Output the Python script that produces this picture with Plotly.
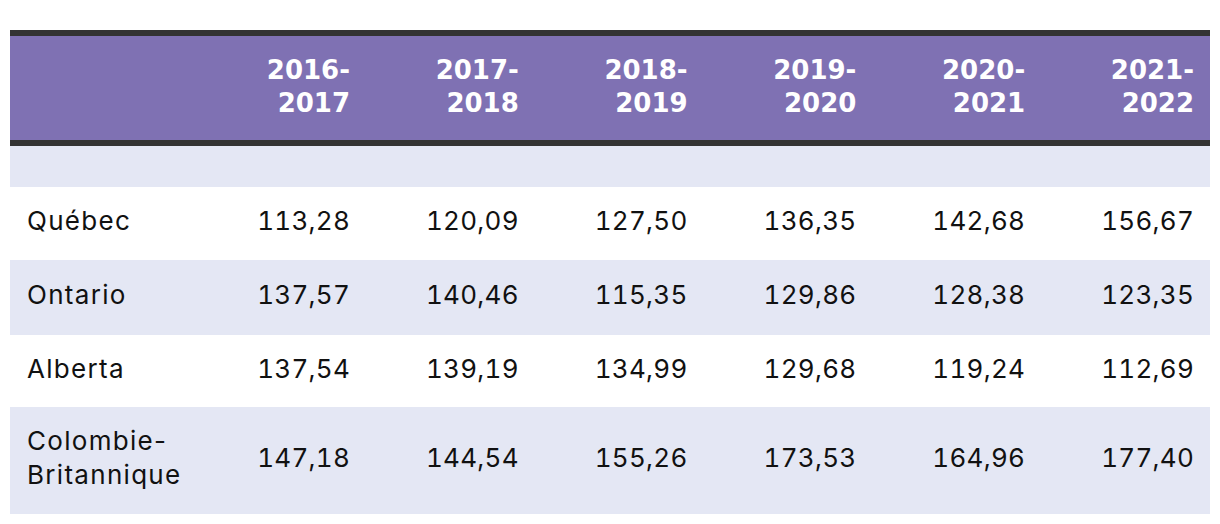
import plotly.graph_objects as go

# ---- data ----
periods = ["2016-<br>2017", "2017-<br>2018", "2018-<br>2019", "2019-<br>2020", "2020-<br>2021", "2021-<br>2022"]
provinces = ["Québec", "Ontario", "Alberta", "Colombie-<br>Britannique"]
quebec = [113.28, 120.09, 127.50, 136.35, 142.68, 156.67]
ontario = [137.57, 140.46, 115.35, 129.86, 128.38, 123.35]
alberta = [137.54, 139.19, 134.99, 129.68, 119.24, 112.69]
colombie_britannique = [147.18, 144.54, 155.26, 173.53, 164.96, 177.40]
series = [quebec, ontario, alberta, colombie_britannique]

# ---- layout constants (pixels in a 1220x524 canvas) ----
W, H = 1220, 524
left, right = 10, 1210
border_top = (30, 36)
header = (36, 140)
border_bot = (140, 146)
empty_row = (146, 187)
row_bounds = [(187, 260), (260, 335), (335, 407), (407, 514)]
row_fill = ["#FFFFFF", "#E4E7F4", "#FFFFFF", "#E4E7F4"]
col_right = [350 + i * 168.8 for i in range(len(periods))]
label_x = 27

PURPLE = "#7F71B3"
DARK = "#333333"
LAV = "#E4E7F4"
FONT = "Inter, Roboto, sans-serif"
HFONT = "DejaVu Sans, sans-serif"

def fmt(v):
    return f"{v:.2f}".replace(".", ",")

fig = go.Figure()

shapes = []
def rect(y0, y1, color):
    shapes.append(dict(type="rect", xref="x", yref="y", x0=left, x1=right, y0=y0, y1=y1,
                       fillcolor=color, line=dict(width=0), layer="below"))

rect(*header, PURPLE)
rect(*border_top, DARK)
rect(*border_bot, DARK)
rect(*empty_row, LAV)
for (y0, y1), c in zip(row_bounds, row_fill):
    rect(y0, y1, c)

# header text
hy = (header[0] + header[1]) / 2 + 1
fig.add_trace(go.Scatter(
    x=col_right, y=[hy] * len(periods), mode="text", text=periods,
    textposition="middle left",
    textfont=dict(family=HFONT, size=26, color="#FFFFFF", weight="bold"),
    hoverinfo="skip", showlegend=False))

# row labels
centers = [(a + b) / 2 for a, b in row_bounds]
fig.add_trace(go.Scatter(
    x=[label_x] * len(provinces), y=centers, mode="text", text=provinces,
    textposition="middle right",
    textfont=dict(family=FONT, size=26, color="#111111"),
    hoverinfo="skip", showlegend=False))

# values
for vals, cy in zip(series, centers):
    fig.add_trace(go.Scatter(
        x=col_right, y=[cy] * len(vals), mode="text", text=[fmt(v) for v in vals],
        textposition="middle left",
        textfont=dict(family=FONT, size=26, color="#111111"),
        hoverinfo="skip", showlegend=False))

fig.update_layout(
    width=W, height=H, margin=dict(l=0, r=0, t=0, b=0),
    paper_bgcolor="white", plot_bgcolor="white",
    shapes=shapes,
    xaxis=dict(range=[0, W], visible=False, fixedrange=True),
    yaxis=dict(range=[H, 0], visible=False, fixedrange=True),
)

post = """
document.body.style.margin = '0';
var st = document.createElement('style');
st.textContent =
  '.scatterlayer .trace:nth-child(2) text { letter-spacing: 0.05em; }' +
  '.scatterlayer .trace:nth-child(n+3) text { font-variant-numeric: tabular-nums; font-feature-settings: "tnum" 1; letter-spacing: 0.01em; }';
document.head.appendChild(st);
"""
fig.write_html("out.html", post_script=post, config={"displayModeBar": False})
